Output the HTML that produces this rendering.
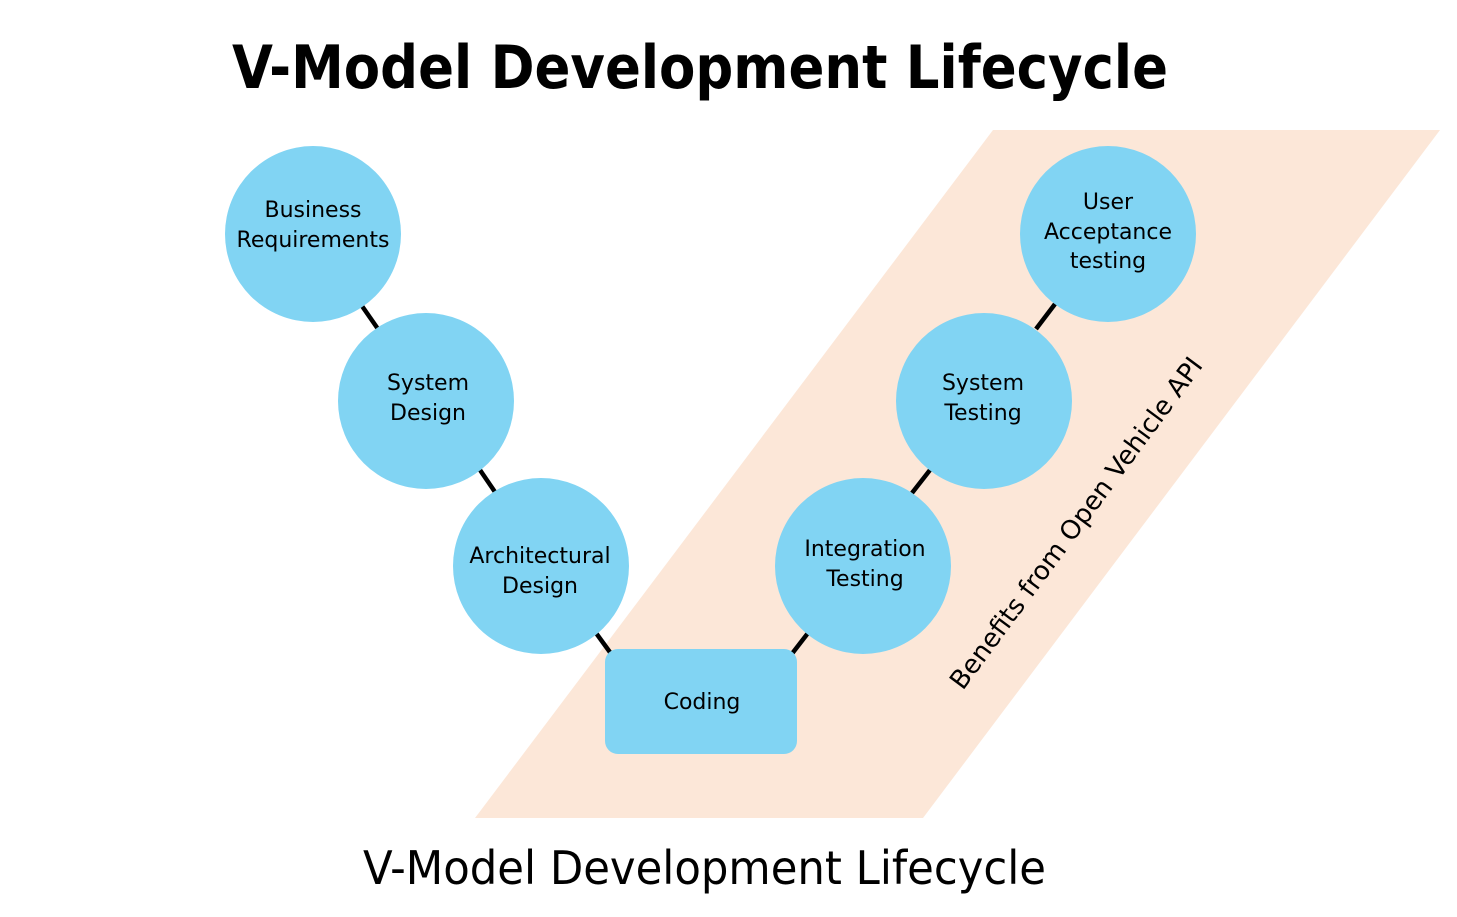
<!DOCTYPE html>
<html><head><meta charset="utf-8"><style>
body{margin:0;background:#fff}
svg{display:block}
text{font-family:"DejaVu Sans","Liberation Sans",sans-serif;fill:#000}
</style></head><body>
<svg width="1457" height="917" viewBox="0 0 1457 917" xmlns="http://www.w3.org/2000/svg">
<polygon points="993,130 1440,130 923,818 475,818" fill="#fce7d8"/>
<g stroke="#000" stroke-width="4.5">
<line x1="362" y1="306" x2="378" y2="329"/>
<line x1="480" y1="470" x2="495" y2="492"/>
<line x1="596" y1="633" x2="612" y2="655"/>
<line x1="791" y1="655" x2="808" y2="633"/>
<line x1="912" y1="493" x2="930" y2="470"/>
<line x1="1036" y1="329" x2="1055" y2="304"/>
</g>
<g fill="#81d4f3">
<circle cx="313" cy="234" r="88"/>
<circle cx="426" cy="401" r="88"/>
<circle cx="541" cy="566" r="88"/>
<circle cx="863" cy="566" r="88"/>
<circle cx="984" cy="401" r="88"/>
<circle cx="1108" cy="234" r="88"/>
<rect x="605" y="649" width="192" height="105" rx="13"/>
</g>
<g font-size="22" text-anchor="middle">
<text x="313" y="217">Business</text><text x="313" y="247">Requirements</text>
<text x="428" y="390">System</text><text x="428" y="420">Design</text>
<text x="540" y="563">Architectural</text><text x="540" y="593">Design</text>
<text x="865" y="556">Integration</text><text x="865" y="586">Testing</text>
<text x="983" y="390">System</text><text x="983" y="420">Testing</text>
<text x="1108" y="209">User</text><text x="1108" y="239">Acceptance</text><text x="1108" y="268">testing</text>
<text x="702" y="709">Coding</text>
</g>
<text x="1076" y="523" font-size="26" text-anchor="middle" transform="rotate(-53.5 1076 523)" dy="9" textLength="405" lengthAdjust="spacingAndGlyphs">Benefits from Open Vehicle API</text>
<text x="232" y="88" font-size="60" font-weight="bold" textLength="936" lengthAdjust="spacingAndGlyphs">V-Model Development Lifecycle</text>
<text x="363" y="884" font-size="46" textLength="683" lengthAdjust="spacingAndGlyphs">V-Model Development Lifecycle</text>
</svg>
</body></html>
